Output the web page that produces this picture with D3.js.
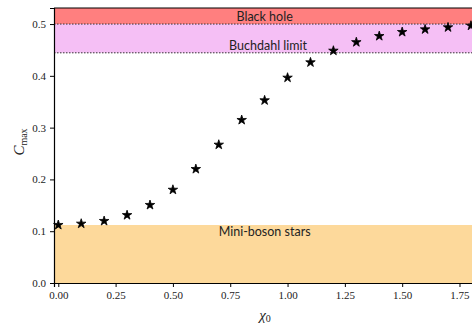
<!DOCTYPE html>
<html>
<head>
<meta charset="utf-8">
<script src="https://cdn.jsdelivr.net/npm/d3@7"></script>
<style>
  html, body { margin: 0; padding: 0; background: #fff; overflow: hidden; }
  svg { display: block; }
  .tick text { font-family: "Liberation Serif", serif; font-size: 11px; fill: #222; }
  .band-label { font-family: "Lato", "DejaVu Sans", sans-serif; font-size: 12.5px; fill: #222; }
</style>
</head>
<body>
<svg id="chart" width="472" height="326"></svg>
<script>
// Maximum compactness vs. central field amplitude
const chi0 = [0.0, 0.1, 0.2, 0.3, 0.4, 0.5, 0.6, 0.7, 0.8, 0.9, 1.0, 1.1, 1.2, 1.3, 1.4, 1.5, 1.6, 1.7, 1.8];
const cmax = [0.112, 0.1145, 0.1197, 0.131, 0.1506, 0.180, 0.220, 0.267, 0.3147, 0.3527, 0.3964, 0.426, 0.4485, 0.465, 0.4768, 0.4846, 0.4897, 0.4936, 0.4968];

const xTicks = [0.0, 0.25, 0.5, 0.75, 1.0, 1.25, 1.5, 1.75];
const yTicks = [0.0, 0.1, 0.2, 0.3, 0.4, 0.5];

// Reference bounds
const blackHole = 0.5;
const buchdahl = 4 / 9;
const miniBoson = 0.112;

const xDomain = [-0.0187, 1.822];
const yDomain = [0, 0.531];

const svg = d3.select("#chart");
const mLeft = 54, mRight = 476, mTop = 8, mBottom = 283;

const x = d3.scaleLinear().domain(xDomain).range([mLeft, mRight]);
const y = d3.scaleLinear().domain(yDomain).range([mBottom, mTop]);

const plot = svg.append("g");

// Shaded regions
plot.append("rect")
  .attr("x", x(xDomain[0])).attr("width", x(xDomain[1]) - x(xDomain[0]))
  .attr("y", y(yDomain[1])).attr("height", y(blackHole) - y(yDomain[1]))
  .attr("fill", "#ff7f7f");
plot.append("rect")
  .attr("x", x(xDomain[0])).attr("width", x(xDomain[1]) - x(xDomain[0]))
  .attr("y", y(blackHole)).attr("height", y(buchdahl) - y(blackHole))
  .attr("fill", "#f5bff5");
plot.append("rect")
  .attr("x", x(xDomain[0])).attr("width", x(xDomain[1]) - x(xDomain[0]))
  .attr("y", y(miniBoson)).attr("height", y(0) - y(miniBoson))
  .attr("fill", "#fdd99b");

// Dotted boundary lines
[blackHole, buchdahl].forEach(v => {
  plot.append("line")
    .attr("x1", x(xDomain[0])).attr("x2", x(xDomain[1]))
    .attr("y1", y(v)).attr("y2", y(v))
    .attr("stroke", "#333").attr("stroke-width", 1)
    .attr("stroke-dasharray", "1.5,1.5");
});

// Region labels
plot.append("text").attr("class", "band-label")
  .attr("x", x(0.9)).attr("y", y(0.5) - 3.5)
  .attr("text-anchor", "middle").text("Black hole");
plot.append("text").attr("class", "band-label")
  .attr("x", x(0.915)).attr("y", y(buchdahl) - 3)
  .attr("text-anchor", "middle").text("Buchdahl limit");
plot.append("text").attr("class", "band-label")
  .attr("x", x(0.9)).attr("y", y(miniBoson) + 11)
  .attr("text-anchor", "middle").text("Mini-boson stars");

// Data points
const star = d3.symbol().type(d3.symbolStar).size(28);
plot.selectAll("path.pt")
  .data(chi0.map((c, i) => [c, cmax[i]]))
  .join("path")
  .attr("class", "pt")
  .attr("d", star)
  .attr("transform", d => `translate(${x(d[0])},${y(d[1])})`)
  .attr("fill", "#000")
  .attr("stroke", "#000")
  .attr("stroke-width", 0.8)
  .attr("stroke-linejoin", "round");

// Axes
const xAxis = svg.append("g")
  .attr("transform", `translate(0,${mBottom})`)
  .call(d3.axisBottom(x).tickValues(xTicks).tickFormat(d3.format(".2f")).tickSizeOuter(0).tickSize(4).tickPadding(4));
const yAxis = svg.append("g")
  .attr("transform", `translate(${mLeft},0)`)
  .call(d3.axisLeft(y).tickValues(yTicks).tickFormat(d3.format(".1f")).tickSizeOuter(0).tickSize(4).tickPadding(4));
[xAxis, yAxis].forEach(g => {
  g.select(".domain").attr("stroke", "#000").attr("stroke-width", 1.2);
  g.selectAll(".tick line").attr("stroke", "#000").attr("stroke-width", 1);
});

// Top spine
svg.append("line")
  .attr("x1", mLeft).attr("x2", mRight).attr("y1", mTop).attr("y2", mTop)
  .attr("stroke", "#000").attr("stroke-width", 1.2);

// Axis titles
const xt = svg.append("text")
  .attr("x", 265).attr("y", 320)
  .attr("text-anchor", "middle")
  .attr("font-family", "Liberation Serif, serif").attr("font-style", "italic").attr("font-size", 15)
  .attr("fill", "#222");
xt.append("tspan").text("χ");
xt.append("tspan").attr("font-style", "normal").attr("font-size", 10).attr("dy", 2).text("0");

const yt = svg.append("text")
  .attr("transform", "translate(24,142) rotate(-90)")
  .attr("text-anchor", "middle")
  .attr("font-family", "Liberation Serif, serif").attr("font-size", 15)
  .attr("fill", "#222");
yt.append("tspan").attr("font-style", "italic").text("C");
yt.append("tspan").attr("font-size", 10).attr("dy", 3).text("max");
</script>
</body>
</html>
